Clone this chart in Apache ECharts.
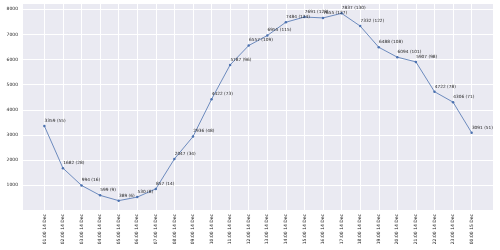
<!DOCTYPE html>
<html>
<head>
<meta charset="utf-8">
<script src="https://cdn.jsdelivr.net/npm/echarts@6/dist/echarts.min.js"></script>
<style>
  html, body { margin: 0; padding: 0; background: #fff; }
  #chart { width: 500px; height: 250px; }
</style>
</head>
<body>
<div id="chart"></div>
<script>
// hour ending labels (GMT+8)
const hours = [
  '01:00 14 Dec', '02:00 14 Dec', '03:00 14 Dec', '04:00 14 Dec', '05:00 14 Dec', '06:00 14 Dec',
  '07:00 14 Dec', '08:00 14 Dec', '09:00 14 Dec', '10:00 14 Dec', '11:00 14 Dec', '12:00 14 Dec',
  '13:00 14 Dec', '14:00 14 Dec', '15:00 14 Dec', '16:00 14 Dec', '17:00 14 Dec', '18:00 14 Dec',
  '19:00 14 Dec', '20:00 14 Dec', '21:00 14 Dec', '22:00 14 Dec', '23:00 14 Dec', '00:00 15 Dec'
];
const swaps = [3359, 1682, 994, 599, 389, 530, 857, 2047, 2936, 4422, 5787, 6557,
  6955, 7484, 7691, 7655, 7837, 7332, 6488, 6094, 5907, 4722, 4306, 3091];
const counts = [55, 28, 16, 9, 6, 8, 14, 34, 48, 73, 96, 109,
  115, 124, 128, 127, 130, 122, 108, 101, 98, 78, 71, 51];
const yTicks = [1000, 2000, 3000, 4000, 5000, 6000, 7000, 8000];

const txt = '#262626';
const xIdx = hours.map((h, i) => i);

const chart = echarts.init(document.getElementById('chart'));
chart.setOption({
  animation: false,
  textStyle: { fontFamily: 'DejaVu Sans' },
  grid: {
    left: 23, right: 7, top: 4, bottom: 40,
    outerBoundsMode: 'none',
    containLabel: false,
    show: true, backgroundColor: '#EAEAF2', borderWidth: 0
  },
  xAxis: {
    type: 'value',
    min: -1.15, max: 24.15,
    name: 'Hr Ending (GMT+8)',
    nameLocation: 'middle',
    nameGap: 33,
    nameTextStyle: { color: txt, fontSize: 5 },
    axisLine: { show: false },
    axisTick: { show: false, customValues: xIdx },
    axisLabel: {
      customValues: xIdx,
      rotate: 90,
      fontSize: 4.5,
      color: txt,
      margin: 4,
      formatter: v => hours[Math.round(v)]
    },
    splitLine: { show: true, lineStyle: { color: '#fff', width: 1 } }
  },
  yAxis: {
    type: 'value',
    min: 17, max: 8209,
    name: 'Swaps Done',
    nameLocation: 'middle',
    nameGap: 16,
    nameTextStyle: { color: txt, fontSize: 5 },
    axisLine: { show: false },
    axisTick: { show: false, customValues: yTicks },
    axisLabel: { customValues: yTicks, fontSize: 4.5, color: txt, margin: 5, formatter: v => String(v) },
    splitLine: { show: true, lineStyle: { color: '#fff', width: 1 } }
  },
  series: [{
    type: 'line',
    data: swaps.map((v, i) => [i, v]),
    symbol: 'circle',
    symbolSize: 2.5,
    lineStyle: { color: '#4C72B0', width: 0.8 },
    itemStyle: { color: '#4C72B0' },
    label: {
      show: true,
      position: [1.5, -6],
      fontSize: 4.3,
      color: txt,
      formatter: p => swaps[p.dataIndex] + ' (' + counts[p.dataIndex] + ')'
    },
    labelLayout: { hideOverlap: false }
  }]
});
</script>
</body>
</html>
